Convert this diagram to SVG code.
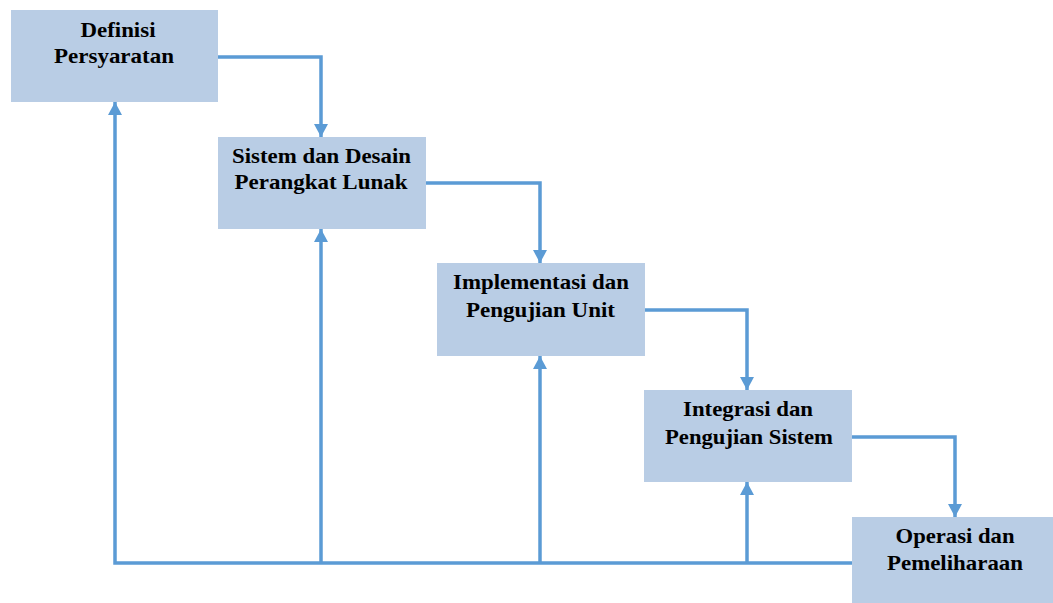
<svg xmlns="http://www.w3.org/2000/svg" width="1053" height="603" viewBox="0 0 1053 603">
<style>
.box{fill:#b9cde5;}
.lbl{font-family:"Liberation Serif","Times New Roman",serif;font-weight:bold;font-size:21px;fill:#000;text-anchor:middle;}
.ln{fill:none;stroke:#5b9bd5;stroke-width:3.5;stroke-linejoin:miter;}
</style>
<defs>
<marker id="ah" markerUnits="userSpaceOnUse" markerWidth="14" markerHeight="14" refX="13" refY="7" orient="auto">
<path d="M0,0 L13,7 L0,14 Z" fill="#5b9bd5"/>
</marker>
</defs>
<rect width="1053" height="603" fill="#fff"/>
<g id="connectors">
<path class="ln" d="M218,57 H321 V137" marker-end="url(#ah)"/>
<path class="ln" d="M426,183 H540 V263" marker-end="url(#ah)"/>
<path class="ln" d="M645,310 H747 V390" marker-end="url(#ah)"/>
<path class="ln" d="M852,437 H955 V517" marker-end="url(#ah)"/>
<path class="ln" d="M852,563 H115 V102" marker-end="url(#ah)"/>
<path class="ln" d="M321,563 V229" marker-end="url(#ah)"/>
<path class="ln" d="M540,563 V356" marker-end="url(#ah)"/>
<path class="ln" d="M747,563 V482" marker-end="url(#ah)"/>
</g>
<g id="n1">
<rect class="box" x="11" y="10" width="207" height="92"/>
<text class="lbl" x="118" y="37" textLength="75" lengthAdjust="spacingAndGlyphs">Definisi</text>
<text class="lbl" x="114" y="63" textLength="120" lengthAdjust="spacingAndGlyphs">Persyaratan</text>
</g>
<g id="n2">
<rect class="box" x="218" y="137" width="208" height="92"/>
<text class="lbl" x="321.5" y="163" textLength="179" lengthAdjust="spacingAndGlyphs">Sistem dan Desain</text>
<text class="lbl" x="321" y="189" textLength="173" lengthAdjust="spacingAndGlyphs">Perangkat Lunak</text>
</g>
<g id="n3">
<rect class="box" x="437" y="263" width="208" height="93"/>
<text class="lbl" x="541" y="289" textLength="176" lengthAdjust="spacingAndGlyphs">Implementasi dan</text>
<text class="lbl" x="540.5" y="317" textLength="149" lengthAdjust="spacingAndGlyphs">Pengujian Unit</text>
</g>
<g id="n4">
<rect class="box" x="644" y="390" width="208" height="92"/>
<text class="lbl" x="748" y="416" textLength="130" lengthAdjust="spacingAndGlyphs">Integrasi dan</text>
<text class="lbl" x="749" y="444" textLength="168" lengthAdjust="spacingAndGlyphs">Pengujian Sistem</text>
</g>
<g id="n5">
<rect class="box" x="852" y="517" width="201" height="86"/>
<text class="lbl" x="955" y="543" textLength="119" lengthAdjust="spacingAndGlyphs">Operasi dan</text>
<text class="lbl" x="955" y="570" textLength="136" lengthAdjust="spacingAndGlyphs">Pemeliharaan</text>
</g>
</svg>
